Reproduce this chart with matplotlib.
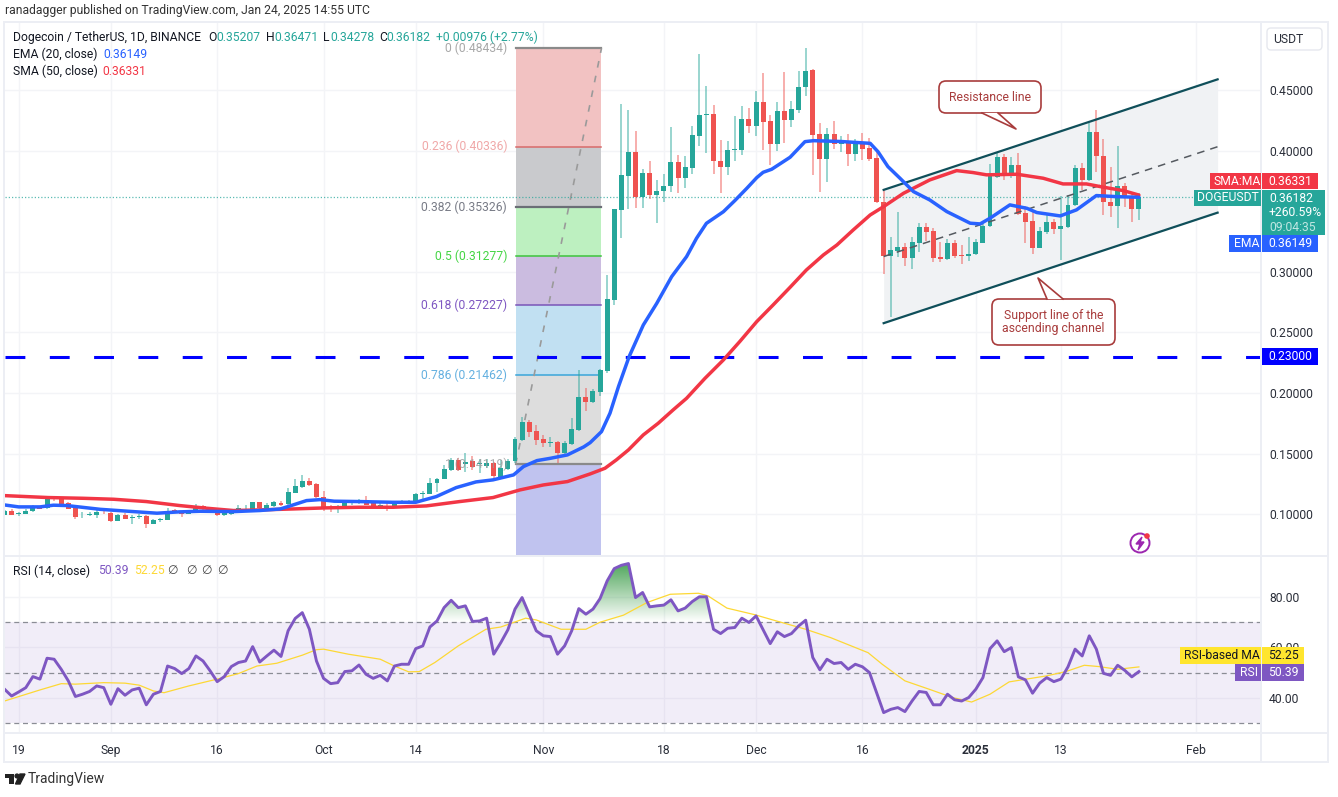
import numpy as np
import matplotlib
matplotlib.use("Agg")
import matplotlib.pyplot as plt
from matplotlib.patches import FancyBboxPatch, Rectangle, Circle, Polygon
from matplotlib.path import Path

plt.rcParams['font.family'] = ['Roboto', 'DejaVu Sans']

# candles, one per day. day 0 is Aug 19, first candle is two days before
opens = [
    .0997, .1027, .1000, .1005, .1024, .1060, .1049, .1140, .1134, .1093,
    .1054, .0991, .0997, .0997, .1021, .1010, .0947, .0994, .0969, .0977,
    .0985, .0922, .0953, .0955, .1035, .1021, .1005, .1024, .1068, .1052,
    .1032, .0991, .1002, .1030, .1040, .1043, .1101, .1049, .1071, .1096,
    .1082, .1178, .1228, .1277, .1247, .1145, .1063, .1049, .1043, .1090,
    .1093, .1118, .1090, .1063, .1068, .1054, .1104, .1101, .1104, .1170,
    .1170, .1255, .1294, .1365, .1448, .1415, .1442, .1415, .1398, .1420,
    .1310, .1371, .1439, .1613, .1758, .1687, .1618, .1588, .1593, .1503,
    .1580, .1695, .1967, .1926, .2009, .2185, .2768, .3510, .3791, .3989,
    .3615, .3813, .3631, .3664, .3708, .3903, .3774, .3857, .4123, .4294,
    .4302, .3917, .3865, .4008, .4002, .4261, .4203, .4401, .4244, .4055,
    .4327, .4253, .4335, .4522, .4665, .4134, .3931, .4134, .4055, .4082,
    .3972, .4066, .4022, .3936, .3573, .3134, .3172, .3203, .3117, .3241,
    .3370, .3337, .3120, .3106, .3238, .3139, .3134, .3150, .3241, .3379,
    .3786, .3945, .3808, .3879, .3483, .3423, .3200, .3332, .3411, .3354,
    .3373, .3552, .3854, .3758, .4157, .3959, .3579, .3544, .3709, .3629,
    .35207]
highs = [
    .1035, .1040, .1019, .1040, .1076, .1063, .1153, .1145, .1140, .1101,
    .1063, .1019, .1021, .1035, .1032, .1019, .1002, .1008, .0994, .1000,
    .0994, .0958, .0972, .1052, .1043, .1027, .1035, .1087, .1076, .1057,
    .1040, .1030, .1040, .1074, .1074, .1101, .1104, .1090, .1112, .1112,
    .1214, .1288, .1321, .1302, .1255, .1189, .1076, .1076, .1096, .1112,
    .1126, .1151, .1104, .1112, .1090, .1112, .1118, .1118, .1173, .1195,
    .1299, .1302, .1409, .1461, .1461, .1502, .1481, .1453, .1453, .1434,
    .1448, .1453, .1634, .1800, .1775, .1734, .1654, .1634, .1602, .1602,
    .1791, .2190, .2042, .2030, .2195, .2974, .3516, .4385, .4335, .4159,
    .3846, .3914, .3758, .3804, .4192, .3961, .3956, .4203, .4794, .4533,
    .4376, .4088, .4079, .4286, .4368, .4352, .4495, .4638, .4294, .4404,
    .4651, .4412, .4660, .4844, .4671, .4225, .4184, .4244, .4121, .4137,
    .4093, .4143, .4101, .4011, .3675, .3291, .3497, .3236, .3285, .3406,
    .3401, .3359, .3249, .3269, .3263, .3222, .3285, .3269, .3414, .3890,
    .3983, .3972, .3951, .3978, .3544, .3497, .3373, .3469, .3434, .3626,
    .3634, .3882, .3896, .4226, .4336, .4094, .3863, .4039, .3736, .3648,
    .36471]
lows = [
    .0991, .0994, .0988, .1002, .1019, .1043, .1043, .1112, .1082, .1040,
    .0964, .0966, .0988, .0966, .1005, .0939, .0941, .0958, .0922, .0961,
    .0887, .0917, .0936, .0953, .1013, .0980, .1000, .1019, .1035, .1013,
    .0985, .0985, .0997, .1024, .1030, .1040, .1040, .1041, .1063, .1068,
    .1076, .1173, .1219, .1233, .1134, .1030, .1021, .1013, .1041, .1076,
    .1087, .1076, .1054, .1057, .1030, .1052, .1090, .1096, .1098, .1118,
    .1167, .1186, .1288, .1360, .1360, .1351, .1365, .1338, .1379, .1288,
    .1305, .1365, .1426, .1604, .1640, .1571, .1552, .1552, .1420, .1497,
    .1574, .1690, .1855, .1915, .1976, .2168, .2726, .3276, .3516, .3524,
    .3524, .3598, .3400, .3576, .3661, .3648, .3689, .3807, .4038, .3983,
    .3807, .3648, .3799, .3917, .3964, .4143, .4121, .4005, .3881, .4000,
    .4066, .4198, .4308, .4453, .3799, .3656, .3744, .4011, .3991, .3873,
    .3917, .3923, .3917, .3565, .2981, .2631, .3126, .3049, .3021, .3167,
    .3255, .3084, .3084, .3098, .3112, .3065, .3093, .3139, .3236, .3373,
    .3772, .3758, .3772, .3469, .3241, .3145, .3194, .3313, .3313, .3098,
    .3359, .3544, .3676, .3753, .3827, .3469, .3456, .3359, .3538, .3414,
    .34278]
closes = [
    .1030, .0997, .1013, .1027, .1063, .1046, .1131, .1126, .1087, .1046,
    .0980, .0997, .1005, .1019, .1016, .0944, .0994, .0961, .0977, .0983,
    .0922, .0953, .0958, .1030, .1021, .1002, .1030, .1068, .1049, .1024,
    .0991, .1013, .1032, .1054, .1046, .1101, .1049, .1076, .1104, .1076,
    .1186, .1236, .1277, .1239, .1140, .1041, .1043, .1057, .1090, .1096,
    .1118, .1079, .1063, .1076, .1057, .1109, .1109, .1107, .1170, .1175,
    .1261, .1294, .1371, .1448, .1365, .1431, .1387, .1420, .1426, .1316,
    .1379, .1442, .1618, .1758, .1679, .1613, .1588, .1596, .1503, .1585,
    .1701, .1967, .1929, .2014, .2190, .2773, .3516, .3796, .3989, .3615,
    .3813, .3631, .3670, .3708, .3903, .3774, .3862, .4126, .4294, .4299,
    .3917, .3865, .4005, .4013, .4264, .4203, .4401, .4236, .4055, .4327,
    .4253, .4343, .4528, .4660, .4129, .3931, .4134, .4055, .4079, .3972,
    .4060, .4016, .3931, .3573, .3131, .3181, .3203, .3117, .3247, .3370,
    .3332, .3117, .3106, .3238, .3131, .3134, .3150, .3244, .3379, .3799,
    .3945, .3799, .3879, .3475, .3414, .3200, .3337, .3409, .3354, .3379,
    .3552, .3854, .3758, .4157, .3959, .3579, .3544, .3709, .3626, .3516,
    .36182]

# moving averages at a set of days
ema_days = [-2, 0, 3, 4.9, 6.8, 11.5, 16.2, 19.5, 22.7, 25.6, 30.3, 34, 36.9, 38.7, 40.6, 42.5, 44.5, 48, 52.8, 56, 58.9,
            61.7, 64.5, 66.9, 69.8, 71.2, 73.1, 75, 77.4, 79.7, 80.6, 82.2, 83.4, 84.6, 86.1, 88.1, 90, 92.1, 94.2,
            95.6, 97, 99.4, 101, 102.7, 104.1, 105, 106.2, 108.8, 109.7, 110.9, 112.1, 116, 120.1, 121.2, 122.6,
            124.3, 126.2, 128.5, 130.9, 134.2, 135.6, 137, 139.8, 142.2, 143.6, 146.9, 149.2, 152, 154.9, 158]
ema_vals = [.1076, .1060, .1060, .1074, .1071, .1040, .1021, .1008, .1019, .1024, .1021, .1030, .1043, .1076, .1112, .1120, .1107, .1104, .1098, .1098, .1145,
            .1219, .1266, .1283, .1324, .1393, .1442, .1461, .1489, .1555, .1590, .1681, .1833, .2053, .2300, .2561, .2740, .2960, .3125,
            .3276, .3400, .3496, .3587, .3689, .3777, .3821, .3846, .3945, .4000, .4074, .4082, .4075, .4060, .3991, .3868,
            .3772, .3662, .3593, .3497, .3401, .3395, .3442, .3552, .3524, .3489, .3461, .3511, .3629, .3620, .36149]
sma_days = [-2, 4.2, 9.1, 13.4, 18, 22.7, 26.5, 30.3, 34, 38.7, 43.4, 48, 52.8, 57.5, 62.2, 66.9, 70.7, 74, 77.4, 80.6, 82.7,
            84.3, 86, 88.1, 90.2, 92.3, 94.2, 96.8, 99.4, 101.7, 104.1, 106.4, 108.8, 111.1, 113.5, 115.4, 117.7, 120.1, 122,
            124.8, 128.5, 132.3, 134.6, 136.5, 140.8, 144.5, 147.3, 150.6, 153, 155.8, 158]
sma_vals = [.1153, .1137, .1131, .1123, .1104, .1071, .1049, .1030, .1035, .1043, .1052, .1057, .1057, .1068, .1104, .1137, .1200, .1241, .1269, .1332, .1379,
            .1448, .1530, .1654, .1750, .1860, .1956, .2121, .2273, .2424, .2589, .2726, .2872, .3015, .3139, .3221, .3345, .3469, .3538,
            .3648, .3758, .3835, .3819, .3800, .3805, .3772, .3725, .3725, .3698, .3670, .36331]

rsi_vals = [
    43.4, 40.7, 42.3, 44.0, 48.4, 47.4, 55.7, 55.3, 51.3, 46.7,
    40.5, 41.4, 42.5, 44.7, 44.0, 37.4, 43.6, 41.0, 43.1, 43.8,
    37.2, 41.4, 42.5, 52.6, 51.6, 49.6, 51.6, 56.6, 54.6, 50.7,
    46.4, 48.4, 52.4, 54.0, 54.6, 60.3, 54.2, 56.6, 58.9, 56.4,
    66.6, 71.5, 73.8, 67.2, 54.6, 47.7, 45.6, 46.0, 50.4, 50.7,
    53.0, 49.3, 47.7, 48.9, 46.7, 52.6, 53.3, 53.3, 59.5, 60.6,
    68.1, 70.5, 75.8, 78.7, 75.8, 76.5, 70.3, 70.5, 71.6, 57.3,
    61.9, 67.0, 75.2, 79.8, 73.2, 66.6, 64.6, 64.3, 57.3, 60.6,
    66.6, 75.4, 73.2, 75.2, 79.4, 86.4, 91.3, 92.6, 93.3, 79.8,
    81.8, 76.1, 76.5, 76.8, 78.9, 74.5, 75.6, 78.2, 80.1, 80.1,
    67.2, 65.5, 67.6, 67.9, 71.6, 69.9, 72.5, 67.0, 61.5, 66.2,
    64.3, 65.5, 68.5, 70.8, 56.0, 51.1, 55.3, 53.6, 54.0, 51.3,
    53.3, 52.3, 50.0, 42.1, 34.1, 35.4, 36.1, 34.5, 38.7, 42.5,
    42.1, 37.2, 37.2, 41.4, 39.2, 38.7, 40.1, 43.4, 48.0, 59.5,
    62.6, 58.3, 59.9, 48.3, 47.1, 41.8, 45.8, 48.0, 46.4, 47.4,
    52.3, 59.3, 56.6, 64.6, 59.3, 49.7, 48.9, 52.9, 50.9, 48.3,
    50.39]
rsi_ma_days = [-2, 3, 6, 8, 12, 15, 17, 19, 20.5, 24, 28, 31, 33.6, 36.4, 40, 42, 43, 46.5, 51, 53, 55, 56.5, 58.7, 62,
               65.9, 68, 71.5, 73, 76.5, 80, 82, 85.3, 88.6, 91.9, 95.9, 97.2, 99.9, 103.8, 106, 111, 114.5, 119.8,
               121.8, 125, 128.4, 131.7, 134.4, 137, 139.7, 145, 147.7, 150.3, 152.3, 155, 158]
rsi_ma_vals = [38.7, 43.1, 45.6, 45.4, 46.0, 45.8, 45.0, 42.7, 42.0, 44.7, 47.4, 49.6, 52.6, 53.7, 56.9, 59.1, 59.3, 57.3, 55.3, 52.6, 50.3, 50.4, 54.0, 60.6,
               67.2, 68.1, 71.6, 70.9, 67.2, 67.2, 70.0, 72.8, 77.8, 81.1, 81.5, 80.5, 75.6, 73.0, 71.2, 67.2, 63.9, 57.9,
               53.3, 46.7, 43.4, 40.1, 38.3, 41.4, 46.3, 48.7, 50.4, 52.9, 52.4, 51.3, 52.25]

# fib retracement
fib_ratios = [0, 0.236, 0.382, 0.5, 0.618, 0.786, 1]
fib_prices = [.48434, .40336, .35326, .31277, .27227, .21462, .14119]
fib_labels = ['0 (0.48434)', '0.236 (0.40336)', '0.382 (0.35326)', '0.5 (0.31277)', '0.618 (0.27227)', '0.786 (0.21462)', '1 (0.14119)']
fib_fills = ['#f2c2c2', '#c9cacd', '#bdf0c0', '#cbbce0', '#c1e0f2', '#dddddd', '#c0c3ef']
fib_lines = ['#8a8a8a', '#d86a6a', '#6b6e76', '#3cc43c', '#7a55b8', '#3aa6da', '#8a8a8a']
fib_text = ['#a8a8a8', '#f0a8a8', '#787b86', '#45d545', '#7e57c2', '#64b0e0', '#9a9a9a']
fib_days = [70.1, 82.2]

# ascending channel
channel_days = [122, 169.1]
channel_upper = [.3676, .4588]
channel_mid = [.3126, .4032]
channel_lower = [.2576, .3488]

price_ticks = [.10, .15, .20, .25, .30, .40, .45]
rsi_ticks = [40, 60, 80]
date_ticks = [0, 13, 28, 43, 56, 74, 91, 104, 119, 135, 147, 166]
date_labels = ['19', 'Sep', '16', 'Oct', '14', 'Nov', '18', 'Dec', '16', '2025', '13', 'Feb']

GREEN = '#26a69a'
RED = '#ef5350'
BLUE = '#2962ff'
SMA_RED = '#f23645'
PURPLE = '#7e57c2'
YELLOW = '#fdd835'
DARK = '#131722'
AXIS_TXT = '#2a2e39'
GRID = '#f3f4f7'
FS = 8.7

W, H = 1338, 797


def px_axes(left, top, right, bottom):
    return fig.add_axes([left / W, 1 - bottom / H, (right - left) / W, (bottom - top) / H])


fig = plt.figure(figsize=(W / 100, H / 100), dpi=100, facecolor='white')

# PRICE PANE
ax = px_axes(5, 23, 1260, 555)
ax.set_xlim(-1.93, 175.08)
ax.set_ylim(.0663, .5053)
days = np.arange(len(closes)) - 2
opens = np.array(opens)
closes = np.array(closes)
highs = np.array(highs)
lows = np.array(lows)

ax.set_xticks(date_ticks)
ax.set_yticks(price_ticks)
ax.set_yticklabels(['%.5f' % p for p in price_ticks], fontsize=FS, color=AXIS_TXT)
ax.yaxis.tick_right()
ax.tick_params(axis='both', length=0, pad=6.5)
ax.tick_params(axis='x', labelbottom=False)
ax.grid(True, color=GRID, lw=1)
ax.set_axisbelow(True)
for s in ax.spines.values():
    s.set_visible(False)

# channel goes under everything else
ax.fill_between(channel_days, channel_lower, channel_upper, color='#f0f2f4', lw=0, zorder=1)

# fib boxes
levels = fib_prices + [ax.get_ylim()[0]]
for i in range(len(fib_prices)):
    ax.fill_between(fib_days, levels[i + 1], levels[i], color=fib_fills[i], lw=0, zorder=1.5)
    ax.plot(fib_days, [fib_prices[i]] * 2, color=fib_lines[i], lw=1.1 if i not in (0, 2, 6) else 1.6, zorder=1.6)
ax.plot([fib_days[0], fib_days[1]], [fib_prices[-1], fib_prices[0]], color='#9a9a9a', lw=1.2, ls=(0, (4, 5)), zorder=1.7)

ax.axhline(.23, color='#0000ff', lw=2.2, ls=(0, (6.5, 8)), zorder=1.8)
ax.plot([-2, 166], [closes[-1]] * 2, color=GREEN, lw=0.9, ls=(0, (1, 1.6)), alpha=.75, zorder=1.8)

up = closes >= opens
wick_cols = [GREEN if u else RED for u in up]
ax.vlines(days, lows, highs, colors=wick_cols, lw=1.2, alpha=.55, zorder=3)
ax.bar(days, np.abs(closes - opens), bottom=np.minimum(opens, closes), width=.7, color=wick_cols, lw=0, zorder=3.1)

ax.plot(channel_days, channel_upper, color='#0f4f5a', lw=1.6, zorder=3.3)
ax.plot(channel_days, channel_lower, color='#0f4f5a', lw=1.6, zorder=3.3)
ax.plot(channel_days, channel_mid, color='#555a60', lw=1.1, ls=(0, (5, 4)), zorder=3.3)

ax.plot(sma_days, sma_vals, color=SMA_RED, lw=2.5, solid_capstyle='round', solid_joinstyle='round', zorder=4)
ax.plot(ema_days, ema_vals, color=BLUE, lw=2.5, solid_capstyle='round', solid_joinstyle='round', zorder=4.1)

for i in range(len(fib_labels)):
    ax.text(fib_days[0] - 1.2, fib_prices[i], fib_labels[i], ha='right', va='center', fontsize=FS, color=fib_text[i], zorder=5,
            alpha=.8 if i == 6 else 1)

# RSI PANE
rx = px_axes(5, 556, 1260, 733)
rx.set_xlim(-1.93, 175.08)
rx.set_ylim(26.0, 96.3)
rx.set_xticks(date_ticks)
rx.set_xticklabels(date_labels, fontsize=FS, color=AXIS_TXT)
rx.get_xticklabels()[9].set_fontweight('bold')
rx.set_yticks(rsi_ticks)
rx.set_yticklabels(['%.2f' % r for r in rsi_ticks], fontsize=FS, color=AXIS_TXT)
rx.yaxis.tick_right()
rx.tick_params(axis='y', length=0, pad=6.5)
rx.tick_params(axis='x', length=0, pad=8)
rx.grid(True, color=GRID, lw=1)
rx.set_axisbelow(True)
for s in rx.spines.values():
    s.set_visible(False)

rsi_vals = np.array(rsi_vals)
rx.fill_between([-2, 175.08], 30, 70, color='#7e57c2', alpha=.1, lw=0, zorder=1)
for lev in (70, 50, 30):
    rx.axhline(lev, color='#8a8d95', lw=0.9, ls=(0, (4, 3)), zorder=1.2)

# green glow above 70, gradient clipped to the area under the rsi line
over = rx.fill_between(days, 70, rsi_vals, where=rsi_vals > 70, interpolate=True, color='none', lw=0)
grad = np.zeros((256, 1, 4))
grad[..., 0], grad[..., 1], grad[..., 2] = .25, .62, .30
grad[:, 0, 3] = np.linspace(.95, 0, 256)
im = rx.imshow(grad, extent=[-2, 159, 70, 94], aspect='auto', origin='upper', zorder=1.5)
im.set_clip_path(Path.make_compound_path(*over.get_paths()), rx.transData)
rx.set_xlim(-1.93, 175.08)
rx.set_ylim(26.0, 96.3)

rx.plot(rsi_ma_days, rsi_ma_vals, color=YELLOW, lw=0.9, solid_joinstyle='round', zorder=2)
rx.plot(days, rsi_vals, color=PURPLE, lw=2.1, solid_joinstyle='round', zorder=3)

# OVERLAY for the chrome, px coordinates
ov = fig.add_axes([0, 0, 1, 1], zorder=10)
ov.set_xlim(0, W)
ov.set_ylim(H, 0)
ov.axis('off')
ov.patch.set_alpha(0)

FRAME = '#eceef4'
for x0, y0, x1, y1 in [(4, 21, 1328, 23), (3, 21, 5, 763), (1327, 21, 1329, 763), (3, 761, 1329, 763),
                       (5, 555, 1328, 557), (5, 732, 1328, 734), (1260, 23, 1262, 762)]:
    ov.add_patch(Rectangle((x0, y0), x1 - x0, y1 - y0, color=FRAME, lw=0))


def txt(x, y, s, color=DARK, size=FS, ha='left', **kw):
    ov.text(x, y, s, color=color, fontsize=size, ha=ha, va='center', **kw)


def label(x0, x1, y0, y1, color, s, tcolor='white', cx=None):
    ov.add_patch(Rectangle((x0, y0), x1 - x0, y1 - y0, color=color, lw=0))
    txt(x0 + 6 if cx is None else cx, (y0 + y1) / 2, s, color=tcolor)


txt(5, 10, 'ranadagger published on TradingView.com, Jan 24, 2025 14:55 UTC', color='#333333')

# legend rows
txt(13, 37, 'Dogecoin / TetherUS, 1D, BINANCE')
for x, s in [(208, 'O'), (266, 'H'), (323, 'L'), (379, 'C')]:
    txt(x, 37, s)
for x, s in [(216, '0.35207'), (274, '0.36471'), (330, '0.34278'), (386, '0.36182'), (436, '+0.00976 (+2.77%)')]:
    txt(x, 37, s, color=GREEN)
txt(13, 54, 'EMA (20, close)')
txt(103, 54, '0.36149', color=BLUE)
txt(13, 71, 'SMA (50, close)')
txt(102, 71, '0.36331', color=SMA_RED)
txt(13, 571, 'RSI (14, close)')
txt(98, 571, '50.39', color=PURPLE)
txt(134, 571, '52.25', color=YELLOW)
for x in (172, 191, 206, 222):
    txt(x, 571, '\u2205', ha='center', color='#444444')

# USDT button
ov.add_patch(FancyBboxPatch((1267, 28), 55, 22, boxstyle='round,pad=0,rounding_size=4', fc='white', ec='#e6e8ee', lw=1))
txt(1273, 39, 'USDT', color=AXIS_TXT)

# axis price tags
label(1210, 1261, 173, 189, SMA_RED, 'SMA:MA', cx=1214)
label(1262, 1318, 173, 189, SMA_RED, '0.36331')
label(1194, 1261, 189.5, 206, GREEN, 'DOGEUSDT', cx=1197)
ov.add_patch(Rectangle((1262, 189.5), 63, 45, color=GREEN, lw=0))
txt(1269, 198, '0.36182', color='white')
txt(1269, 212, '+260.59%', color='white')
txt(1269, 227, '09:04:35', color='#bfe6e2')
label(1229, 1261, 235, 251.5, BLUE, 'EMA', cx=1234)
label(1262, 1318, 235, 251.5, BLUE, '0.36149')
label(1262, 1318, 348, 365, '#0000ff', '0.23000')
label(1180, 1261, 647, 664, '#ffe52e', 'RSI-based MA', tcolor=DARK, cx=1184)
label(1262, 1304, 647, 664, '#ffe52e', '52.25', tcolor=DARK)
label(1235, 1261, 664, 681, PURPLE, 'RSI', cx=1240)
label(1262, 1304, 664, 681, PURPLE, '50.39')


def callout(x0, y0, x1, y1, tail, lines):
    c = '#a83c3c'
    ov.add_patch(FancyBboxPatch((x0, y0), x1 - x0, y1 - y0, boxstyle='round,pad=0,rounding_size=7', fc='white', ec=c, lw=1.2))
    (bx0, by), (tx, ty), (bx1, _) = tail
    ov.add_patch(Polygon(tail, closed=True, fc='white', ec='none'))
    ov.plot([bx0, tx, bx1], [by, ty, by], color=c, lw=1.2)
    for i, s in enumerate(lines):
        txt((x0 + x1) / 2, (y0 + y1) / 2 + (i - (len(lines) - 1) / 2) * 13, s, color=c, ha='center', size=8.8)


callout(939, 81, 1041, 113, [(982, 113), (1016, 129), (998, 113)], ['Resistance line'])
callout(992, 299, 1115, 345, [(1047, 299), (1038, 278), (1063, 299)], ['Support line of the', 'ascending channel'])

# lightning badge
ov.add_patch(Circle((1140, 543), 9.5, fc='white', ec='#9c27b0', lw=1.4))
ov.add_patch(Polygon([(1142, 537), (1136, 544), (1140, 544), (1138, 550), (1144, 542), (1140, 542)], color='#9c27b0'))
ov.add_patch(Circle((1147, 536), 2.1, color='#f23645'))

# TradingView mark
ov.add_patch(Rectangle((5, 774), 9, 3.5, color='#222222', lw=0))
ov.add_patch(Rectangle((9, 774), 4.5, 10, color='#222222', lw=0))
ov.add_patch(Circle((17, 776), 1.9, color='#222222'))
ov.add_patch(Polygon([(20, 774), (25, 774), (20, 784), (15.5, 784)], color='#222222'))
txt(28, 779, 'TradingView', color='#333333', size=10)

fig.savefig('out.png', dpi=100)
